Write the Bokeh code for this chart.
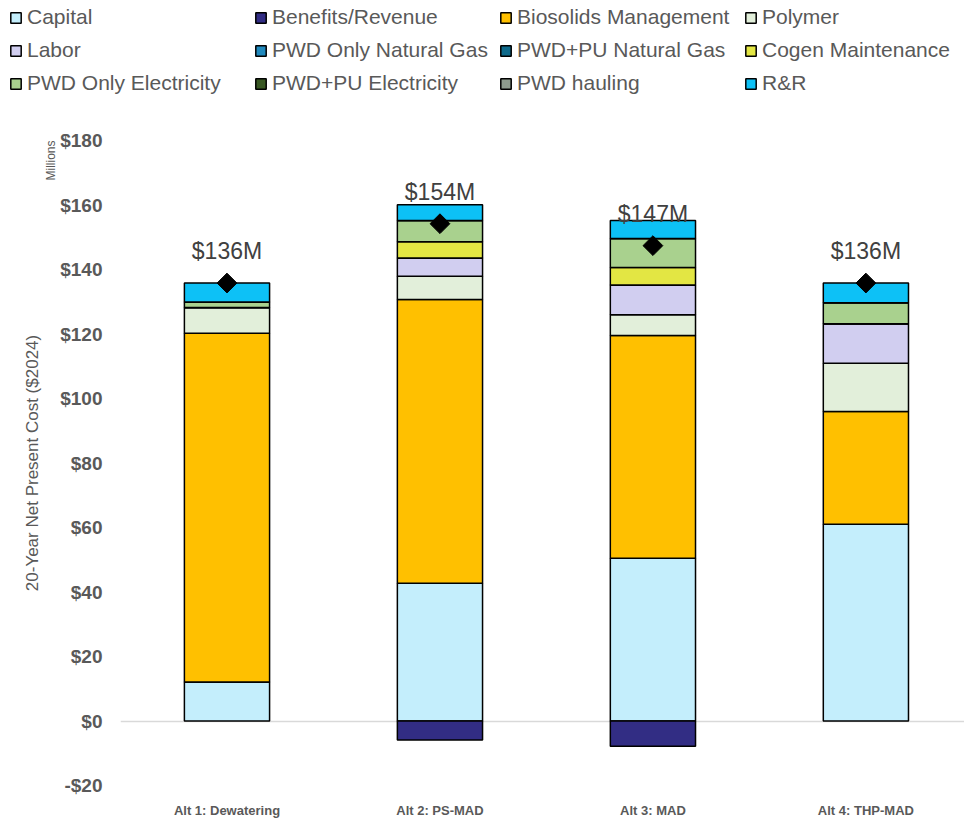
import math
import numpy as np
from bokeh.plotting import figure
from bokeh.layouts import column
from bokeh.models import (Range1d, FixedTicker, Legend, LegendItem, LinearAxis,
                          ColumnDataSource, Title)
from bokeh.embed import file_html
from bokeh.resources import INLINE

# ---- data (millions of $2024) ----
categories = ["Alt 1: Dewatering", "Alt 2: PS-MAD", "Alt 3: MAD", "Alt 4: THP-MAD"]
series_names = ["Capital", "Benefits/Revenue", "Biosolids Management", "Polymer",
                "Labor", "PWD Only Natural Gas", "PWD+PU Natural Gas", "Cogen Maintenance",
                "PWD Only Electricity", "PWD+PU Electricity", "PWD hauling", "R&R"]
capital = [12.1, 42.7, 50.5, 61.0]
benefits = [0.0, -5.9, -7.8, 0.0]
biosolids = [108.1, 88.0, 69.0, 35.0]
polymer = [8.0, 7.2, 6.5, 14.9]
labor = [0.0, 5.7, 9.2, 12.3]
pwd_ng = [0.0, 0.0, 0.0, 0.0]
pwdpu_ng = [0.0, 0.0, 0.0, 0.0]
cogen = [0.0, 5.0, 5.4, 0.0]
pwd_elec = [1.7, 6.6, 9.0, 6.5]
pwdpu_elec = [0.0, 0.0, 0.0, 0.0]
hauling = [0.0, 0.0, 0.0, 0.0]
rr = [5.9, 4.9, 5.6, 6.1]
series_values = [capital, benefits, biosolids, polymer, labor, pwd_ng, pwdpu_ng,
                 cogen, pwd_elec, pwdpu_elec, hauling, rr]
series_colors = ["#C4EEFC", "#322D84", "#FFC000", "#E2EFDA", "#D1CEF0", "#2089BD",
                 "#0E6A8B", "#E3E643", "#A9D18E", "#385723", "#8E9C8E", "#0DC1F6"]
y_ticks = [-20, 0, 20, 40, 60, 80, 100, 120, 140, 160, 180]
y_tick_labels = ["-$20", "$0", "$20", "$40", "$60", "$80", "$100", "$120", "$140", "$160", "$180"]

GRAY = "#595959"
x = [i + 0.5 for i in range(len(categories))]

# ---------------- main chart ----------------
p = figure(width=964, height=715, output_backend="svg", toolbar_location=None,
           x_range=Range1d(0, 3.963), y_range=Range1d(-20, 180),
           min_border_left=120, min_border_right=0, min_border_top=30,
           min_border_bottom=40)
p.outline_line_color = None
p.frame_align = False

pos_base = np.zeros(len(categories))
neg_base = np.zeros(len(categories))
for name, vals, col in zip(series_names, series_values, series_colors):
    v = np.array(vals, dtype=float)
    bottom = np.where(v >= 0, pos_base, neg_base + v)
    top = np.where(v >= 0, pos_base + v, neg_base)
    pos_base = pos_base + np.where(v >= 0, v, 0)
    neg_base = neg_base + np.where(v < 0, v, 0)
    src = ColumnDataSource(dict(x=x, bottom=bottom, top=top))
    p.vbar(x="x", bottom="bottom", top="top", width=0.4, source=src,
           fill_color=col, line_color="black", line_width=1.5)

net = [sum(s[i] for s in series_values) for i in range(len(categories))]
net_labels = ["$%dM" % round(t) for t in net]
tsrc = ColumnDataSource(dict(x=x, y=net, lab=net_labels))
p.scatter(x="x", y="y", source=tsrc, marker="square", angle=math.pi / 4, size=14,
          fill_color="black", line_color="black")
p.text(x="x", y="y", text="lab", source=tsrc, text_align="center",
       text_baseline="middle", y_offset=-32, text_font_size="23px",
       text_color="#404040", text_font={"value": "Liberation Sans"})

p.xgrid.visible = False
p.ygrid.ticker = FixedTicker(ticks=[0])
p.ygrid.grid_line_color = "#D9D9D9"
p.ygrid.grid_line_width = 1.5

# y axis (tick labels)
ya = p.yaxis[0]
ya.ticker = FixedTicker(ticks=y_ticks)
ya.major_label_overrides = {t: l for t, l in zip(y_ticks, y_tick_labels)}
ya.axis_line_color = None
ya.major_tick_line_color = None
ya.minor_tick_line_color = None
ya.major_tick_out = 0
ya.major_tick_in = 0
ya.major_label_standoff = 18
ya.major_label_text_font = "Liberation Sans"
ya.major_label_text_font_style = "bold"
ya.major_label_text_font_size = "19px"
ya.major_label_text_color = GRAY

# "Millions" unit note, at the top end of the left side
p.add_layout(Title(text="Millions", align="right", text_font_size="12px",
                   text_font="Liberation Sans", text_font_style="normal",
                   text_color=GRAY, standoff=0, offset=0), "left")

# axis title on an outer, tick-less axis
title_axis = LinearAxis(ticker=FixedTicker(ticks=[]),
                        axis_label="20-Year Net Present Cost ($2024)",
                        axis_line_color=None, major_tick_line_color=None,
                        minor_tick_line_color=None, major_tick_out=0, major_tick_in=0,
                        minor_tick_out=0, minor_tick_in=0, major_label_standoff=0,
                        axis_label_standoff=0,
                        axis_label_text_font="Liberation Sans",
                        axis_label_text_font_style="normal",
                        axis_label_text_font_size="17px", axis_label_text_color=GRAY)
p.add_layout(title_axis, "left")

# x axis
xa = p.xaxis[0]
xa.ticker = FixedTicker(ticks=x)
xa.major_label_overrides = {xi: c for xi, c in zip(x, categories)}
xa.axis_line_color = None
xa.major_tick_line_color = None
xa.minor_tick_line_color = None
xa.major_tick_out = 0
xa.major_tick_in = 0
xa.major_label_standoff = 17
xa.major_label_text_font = "Liberation Sans"
xa.major_label_text_font_style = "bold"
xa.major_label_text_font_size = "13px"
xa.major_label_text_color = GRAY

# ---------------- legend strip ----------------
lf = figure(width=964, height=110, output_backend="svg", toolbar_location=None,
            x_range=Range1d(0, 1), y_range=Range1d(0, 1), min_border=0,
            x_axis_type=None, y_axis_type=None)
lf.grid.visible = False
lf.outline_line_color = None
lf.frame_align = False
items = []
for name, col in zip(series_names, series_colors):
    # zero-size bar below the visible range: draws nothing, carries the swatch style
    ssrc = ColumnDataSource(dict(x=[0.5], bottom=[-10.0], top=[-10.0]))
    r = lf.vbar(x="x", bottom="bottom", top="top", width=0.0, source=ssrc,
                fill_color=col, line_color="black", line_width=1.5)
    items.append(LegendItem(label=name, renderers=[r]))
legend = Legend(items=items, location=(9, 15), ncols=4, orientation="horizontal",
                label_text_font="Liberation Sans", label_text_font_size="21px",
                label_text_color=GRAY, glyph_width=13, glyph_height=13,
                label_height=21, label_width=218, label_standoff=5, spacing=9,
                padding=4, margin=0, border_line_color=None,
                background_fill_alpha=0)
lf.add_layout(legend, "center")

layout = column(lf, p, spacing=0)
open("out.html", "w").write(file_html(layout, INLINE))
